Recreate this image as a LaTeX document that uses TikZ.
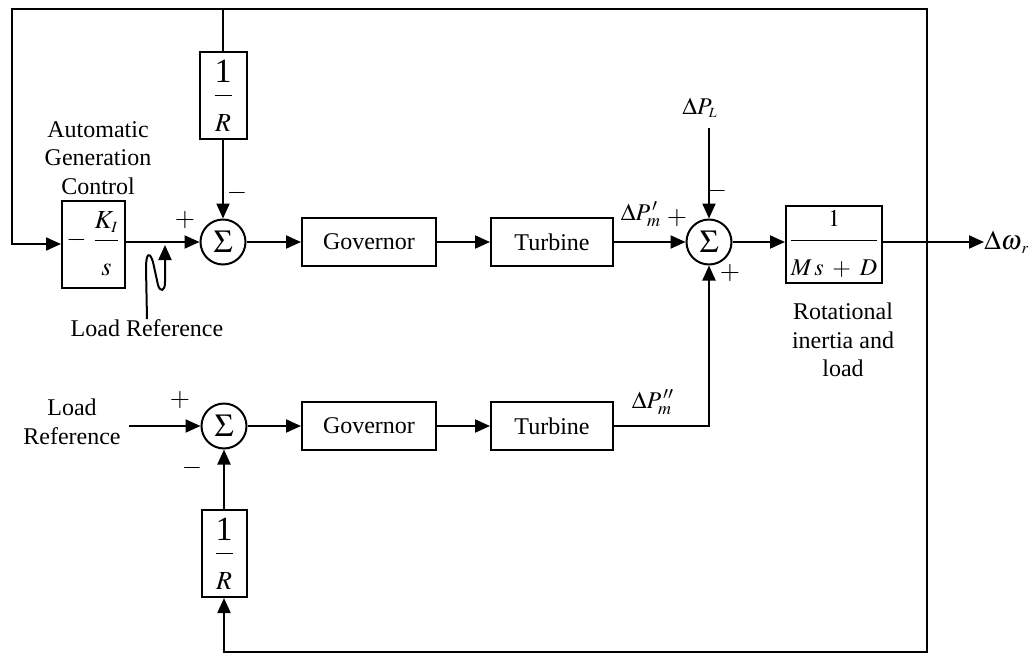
\documentclass[tikz,border=0pt]{standalone}
\usepackage{mathptmx}
\usepackage{fontspec}
\setmainfont{Liberation Serif}
\usetikzlibrary{arrows.meta}

\newcommand{\blockfrac}[2]{$\displaystyle\frac{\rule[-5pt]{0pt}{5pt}#1}{\rule{0pt}{16pt}#2}$}
\newcommand{\bigone}{\mbox{\fontsize{17}{17}\selectfont 1}}

\begin{document}
\begin{tikzpicture}[x=0.5pt, y=-0.5pt,
        font=\fontsize{12}{14.3}\selectfont,
        signal/.style={line width=1pt},
        flow/.style={signal, -{Triangle[length=7.5pt, width=6.5pt]}},
        block/.style={draw, line width=1pt, inner sep=0pt, align=center},
        gainblock/.style={block, font=\fontsize{13}{15}\selectfont},
        sumnode/.style={draw, circle, line width=1pt, minimum size=22.5pt, inner sep=0pt, font=\fontsize{16}{16}\selectfont},
        sign/.style={inner sep=0pt, font=\fontsize{13}{13}\selectfont},
        caption/.style={align=center, inner sep=0pt}
    ]
    \useasboundingbox (0,0) rectangle (1030,654);

    % upper row
    \node[gainblock, minimum width=31.5pt, minimum height=43.5pt] (agc) at (93.5, 244) {$-\;\displaystyle\frac{K_{\scriptscriptstyle I}}{\rule{0pt}{16pt}s}$};
    \node[gainblock, minimum width=23.5pt, minimum height=43.5pt] (fbup) at (223, 95.5) {\blockfrac{\bigone}{R}};
    \node[sumnode] (sumup) at (223, 242) {$\Sigma$};
    \node[block, minimum width=67pt, minimum height=24pt] (govup) at (369, 242) {Governor};
    \node[block, minimum width=61pt, minimum height=24pt] (turbup) at (552, 242) {Turbine};
    \node[sumnode] (sumload) at (709, 242) {$\Sigma$};
    \node[block, minimum width=48pt, minimum height=38.5pt] (plant) at (834, 244) {\blockfrac{1}{M\,s\;+\;D}};
    \node[anchor=west, inner sep=0pt, font=\fontsize{13.5}{14}\selectfont] (dw) at (984, 242) {$\Delta\omega_{\,\scriptscriptstyle r}$};
    \node[inner sep=5pt] (dpl) at (700, 108) {$\Delta P_{\scriptscriptstyle L}$};

    % lower row
    \node[sumnode] (sumdown) at (224, 426) {$\Sigma$};
    \node[block, minimum width=67pt, minimum height=24pt] (govdown) at (369, 426) {Governor};
    \node[block, minimum width=61pt, minimum height=24pt] (turbdown) at (552, 426) {Turbine};
    \node[gainblock, minimum width=22.5pt, minimum height=43.5pt] (fbdown) at (224, 553.5) {\blockfrac{\bigone}{R}};

    % captions
    \node[caption] (agctext) at (98, 158) {Automatic\\Generation\\Control};
    \node[caption] (lrup) at (147, 328) {Load Reference};
    \node[caption] (lrdown) at (72, 422) {Load\\Reference};
    \node[caption] (planttext) at (843, 340) {Rotational\\inertia and\\load};

    % frame corners
    \coordinate (tap) at (927, 242);
    \coordinate (topleft) at (12, 9);
    \coordinate (botright) at (927, 652);
    \coordinate (lrtip) at (165, 245);

    % upper signals
    \draw[flow] (tap) |- (topleft) |- (agc.west);
    \draw[signal] (fbup.north |- topleft) -- (fbup.north);
    \draw[flow] (fbup.south) -- (sumup.north);
    \draw[flow] (agc.east |- sumup) -- (sumup.west);
    \draw[flow] (sumup.east) -- (govup.west);
    \draw[flow] (govup.east) -- (turbup.west);
    \draw[flow] (turbup.east) -- (sumload.west);
    \draw[flow] (dpl.south -| sumload.north) -- (sumload.north);
    \draw[flow] (sumload.east) -- (plant.west |- sumload);
    \draw[flow] (plant.east |- dw.west) -- (dw.west);
    \draw[flow] (lrup.north) -- (146, 268) .. controls (146, 252) and (150, 252) .. (153, 262)
        -- (158, 285) .. controls (160, 292) and (165, 292) .. (165, 282) -- (lrtip);

    % lower signals
    \draw[flow] (lrdown.east |- sumdown) ++(8,0) -- (sumdown.west);
    \draw[flow] (fbdown.north) -- (sumdown.south);
    \draw[flow] (sumdown.east) -- (govdown.west);
    \draw[flow] (govdown.east) -- (turbdown.west);
    \draw[flow] (turbdown.east) -| (sumload.south);
    \draw[flow] (tap) -- (botright) -| (fbdown.south);

    % signs and signal names
    \node[sign] at (185, 220) {$+$};
    \node[sign] at (237, 193) {$-$};
    \node[sign] at (180, 400) {$+$};
    \node[sign] at (192, 468) {$-$};
    \node[sign] at (677, 218) {$+$};
    \node[sign] at (717, 191) {$-$};
    \node[sign] at (730, 273) {$+$};
    \node at (641, 214) {$\Delta P_{m}^{\,\prime}$};
    \node at (653, 402) {$\Delta P_{m}^{\,\prime\prime}$};
\end{tikzpicture}
\end{document}
